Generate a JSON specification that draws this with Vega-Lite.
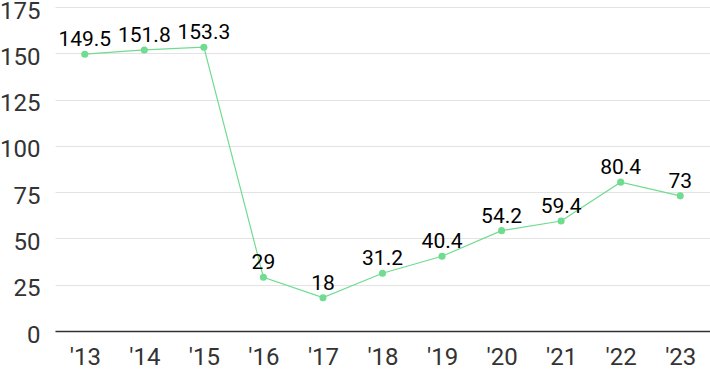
{
  "$schema": "https://vega.github.io/schema/vega-lite/v6.json",
  "width": 655,
  "height": 324,
  "autosize": {"type": "none"},
  "padding": {"left": 55, "top": 7, "right": 0, "bottom": 40},
  "background": "white",
  "config": {"view": {"stroke": null}, "font": "Roboto"},
  "data": {"values": [
    {"year": "'13", "value": 149.5},
    {"year": "'14", "value": 151.8},
    {"year": "'15", "value": 153.3},
    {"year": "'16", "value": 29},
    {"year": "'17", "value": 18},
    {"year": "'18", "value": 31.2},
    {"year": "'19", "value": 40.4},
    {"year": "'20", "value": 54.2},
    {"year": "'21", "value": 59.4},
    {"year": "'22", "value": 80.4},
    {"year": "'23", "value": 73}
  ]},
  "encoding": {
    "x": {"field": "year", "type": "ordinal", "sort": null,
      "axis": {"title": null, "labelAngle": 0, "labelFontSize": 24, "labelColor": "#333", "labelPadding": 14, "ticks": false, "domainColor": "#333", "domainWidth": 1.5, "grid": false, "labelFont": "Roboto"}},
    "y": {"field": "value", "type": "quantitative",
      "scale": {"domain": [0, 175]},
      "axis": {"title": null, "values": [0, 25, 50, 75, 100, 125, 150, 175], "labelFontSize": 24, "labelColor": "#333", "labelPadding": 15, "labelOffset": 4, "ticks": false, "domain": false, "gridColor": "#e3e3e3", "labelFont": "Roboto"}}
  },
  "layer": [
    {"mark": {"type": "line", "color": "#6fdc90", "strokeWidth": 1.2}},
    {"mark": {"type": "point", "filled": true, "color": "#6fdc90", "size": 50, "opacity": 1}},
    {"mark": {"type": "text", "baseline": "alphabetic", "dy": -8, "fontSize": 21, "color": "#000", "font": "Roboto"},
      "encoding": {"text": {"field": "value", "type": "quantitative"}}}
  ]
}
